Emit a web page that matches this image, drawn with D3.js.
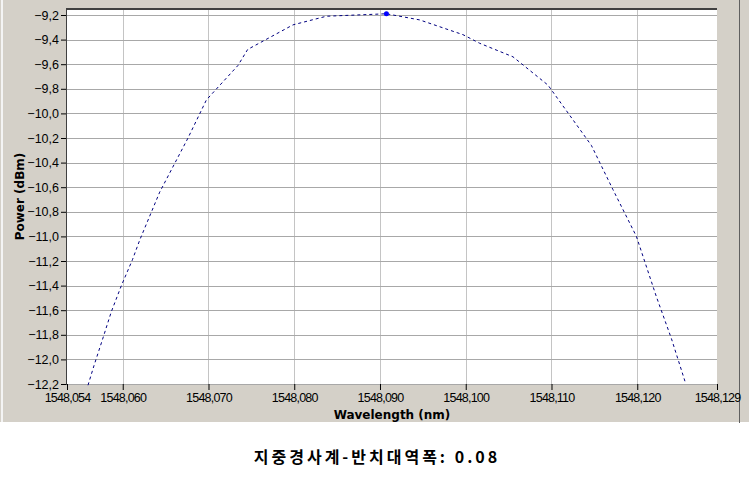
<!DOCTYPE html>
<html><head><meta charset="utf-8">
<script src="https://cdn.jsdelivr.net/npm/d3@7"></script>
<style>body{margin:0;background:#fff}svg{display:block}</style>
</head><body>
<script>
// ---- data ----
const wavelength = [1548.05595,1548.05665,1548.05763,1548.05868,1548.05984,1548.06113,1548.06198,1548.06431,1548.06761,1548.06976,1548.07344,1548.07457,1548.07986,1548.08375,1548.09075,1548.09463,1548.09968,1548.10163,1548.10551,1548.10959,1548.11465,1548.11717,1548.1199,1548.12223,1548.12398,1548.12562];
const power = [-12.21,-12.05,-11.84,-11.61,-11.40,-11.19,-11.03,-10.64,-10.20,-9.89,-9.61,-9.48,-9.28,-9.21,-9.19,-9.24,-9.36,-9.43,-9.54,-9.77,-10.26,-10.62,-11.00,-11.49,-11.83,-12.19];
const peakIndex = 14;
const xTickValues = [1548.0535,1548.06,1548.07,1548.08,1548.09,1548.10,1548.11,1548.12,1548.1293];
const xTickLabels = ["1548,054","1548,060","1548,070","1548,080","1548,090","1548,100","1548,110","1548,120","1548,129"];
const yTickValues = [-9.2,-9.4,-9.6,-9.8,-10.0,-10.2,-10.4,-10.6,-10.8,-11.0,-11.2,-11.4,-11.6,-11.8,-12.0,-12.2];
const xTitle = "Wavelength (nm)";
const yTitle = "Power (dBm)";
const caption = "지중경사계-반치대역폭: 0.08";

const W = 749, H = 485;
const svg = d3.select("body").append("svg").attr("width", W).attr("height", H);
const L = 67, R = 717, T = 9, B = 384;
const x = d3.scaleLinear().domain([1548.0535, 1548.1293]).range([L, R]);
const y = d3.scaleLinear().domain([-12.2, -9.2]).range([B, 15]);

// panel
svg.append("rect").attr("x",0).attr("y",0).attr("width",W).attr("height",422).attr("fill","#d4d0c8");
svg.append("rect").attr("x",1).attr("y",0).attr("width",2).attr("height",422).attr("fill","#f4f4f4");
svg.append("line").attr("x1",739.5).attr("x2",739.5).attr("y1",0).attr("y2",423).attr("stroke","#606060");
svg.append("rect").attr("x",L).attr("y",T).attr("width",R-L).attr("height",B-T).attr("fill","#fff");

// grid
const g = svg.append("g");
g.selectAll("line.vg").data(xTickValues.slice(1,-1)).join("line")
  .attr("x1",d=>Math.round(x(d))+0.5).attr("x2",d=>Math.round(x(d))+0.5)
  .attr("y1",T).attr("y2",B).attr("stroke","#c4c4c4");
g.selectAll("line.hg").data(yTickValues).join("line")
  .attr("x1",L).attr("x2",R)
  .attr("y1",d=>Math.round(y(d))+0.5).attr("y2",d=>Math.round(y(d))+0.5).attr("stroke","#a8a8a8");

// border lines
svg.append("line").attr("x1",L).attr("x2",R).attr("y1",T).attr("y2",T).attr("stroke","#404040").attr("stroke-width",2);
svg.append("line").attr("x1",L-0.5).attr("x2",L-0.5).attr("y1",T-1).attr("y2",B+1).attr("stroke","#404040");

// axes
const fontFam = "'Liberation Sans', Arial, sans-serif";
const yAxis = d3.axisLeft(y).tickValues(yTickValues).tickSize(5).tickPadding(2)
  .tickFormat(d=>d3.format(".1f")(d).replace(".",","));
const ya = svg.append("g").attr("transform",`translate(${L-1},0)`).call(yAxis);
ya.select(".domain").remove();
ya.selectAll(".tick line").attr("stroke","#000");
ya.selectAll("text").attr("font-family",fontFam).attr("font-size",12.5).attr("fill","#000");

const xAxis = d3.axisBottom(x).tickValues(xTickValues).tickSize(6).tickPadding(3)
  .tickFormat((d,i)=>xTickLabels[i]);
const xa = svg.append("g").attr("transform",`translate(0,${B})`).call(xAxis);
xa.select(".domain").remove();
xa.selectAll(".tick line").attr("stroke","#000");
xa.selectAll("text").attr("font-family",fontFam).attr("font-size",12.5).attr("letter-spacing","-0.8px").attr("fill","#000");

svg.append("text").attr("x",(L+R)/2).attr("y",419).attr("text-anchor","middle")
  .attr("font-family","'DejaVu Sans', sans-serif").attr("font-weight","bold").attr("font-size",12).text(xTitle);
svg.append("text").attr("transform",`translate(24,${(T+B)/2}) rotate(-90)`).attr("text-anchor","middle")
  .attr("font-family","'DejaVu Sans', sans-serif").attr("font-weight","bold").attr("font-size",12).text(yTitle);

// line
const pts = wavelength.map((w,i)=>[w,power[i]]);
svg.append("path").datum(pts)
  .attr("d", d3.line().x(d=>x(d[0])).y(d=>y(d[1])))
  .attr("fill","none").attr("stroke","#000080").attr("stroke-width",1).attr("stroke-dasharray","3,3");
svg.append("circle").attr("cx",x(wavelength[peakIndex])).attr("cy",y(power[peakIndex])).attr("r",2.5).attr("fill","#0000ff");

// caption
svg.append("text").attr("x",377).attr("y",463).attr("text-anchor","middle")
  .attr("font-family","'Noto Sans CJK KR', sans-serif").attr("font-weight","bold").attr("font-size",16).attr("letter-spacing","3px").attr("fill","#000").text(caption);
</script>
</body></html>
